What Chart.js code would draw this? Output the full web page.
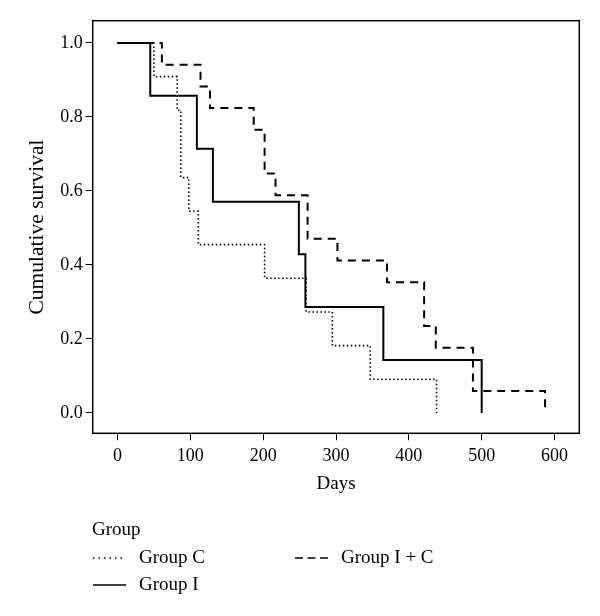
<!DOCTYPE html>
<html>
<head>
<meta charset="utf-8">
<title>Cumulative survival</title>
<script src="https://cdn.jsdelivr.net/npm/chart.js@4"></script>
<style>
body { margin: 0; background: #fff; }
canvas { display: block; }
</style>
</head>
<body>
<canvas id="chart" width="600" height="616"></canvas>
<script>
'use strict';

// Kaplan-Meier steps: day of each event and survival after it
const groupCDays = [0, 50, 82, 87, 98, 111, 202, 259, 295, 347, 438];
const groupCSurv = [1, 0.909, 0.818, 0.636, 0.545, 0.455, 0.364, 0.273, 0.182, 0.091, 0];
const groupIDays = [0, 45, 109, 131, 249, 258, 365, 500];
const groupISurv = [1, 0.857, 0.714, 0.571, 0.429, 0.286, 0.143, 0];
const groupICDays = [0, 61, 114, 127, 187, 202, 217, 261, 302, 370, 421, 437, 488, 587];
const groupICSurv = [1, 0.941, 0.882, 0.824, 0.765, 0.647, 0.588, 0.471, 0.412, 0.353, 0.235, 0.176, 0.059, 0];

const groupLabels = ['Group C', 'Group I', 'Group I + C'];
const xTitle = 'Days';
const yTitle = 'Cumulative survival';
const legendTitle = 'Group';

const SERIF = '"Liberation Serif", "Times New Roman", serif';

/**
 * 日数と生存率の配列から点列を作る
 */
function
toPoints(days, surv)
{
    return days.map((d, i) => ({ x: d, y: surv[i] }));
}

// 枠線 (上と右も含めて描く)
const boxPlugin = {
    id: 'box',
    afterDatasetsDraw(chart) {
        const { ctx, chartArea: a } = chart;
        ctx.save();
        ctx.strokeStyle = '#000';
        ctx.lineWidth = 1.5;
        ctx.strokeRect(a.left, a.top, a.right - a.left, a.bottom - a.top);
        ctx.restore();
    },
};

// 下部の凡例 (2 列)
const legendPlugin = {
    id: 'groupLegend',
    afterDraw(chart) {
        const ctx = chart.ctx;
        const slots = [
            { x: 93, y: 558 },
            { x: 93, y: 585 },
            { x: 295, y: 558 },
        ];
        ctx.save();
        ctx.fillStyle = '#000';
        ctx.font = `19px ${SERIF}`;
        ctx.textBaseline = 'alphabetic';
        ctx.fillText(legendTitle, 92, 535);
        chart.data.datasets.forEach((ds, i) => {
            const s = slots[i];
            ctx.strokeStyle = '#000';
            ctx.lineWidth = ds.legendWidth;
            ctx.setLineDash(ds.legendDash);
            ctx.beginPath();
            ctx.moveTo(s.x, s.y);
            ctx.lineTo(s.x + 33, s.y);
            ctx.stroke();
            ctx.setLineDash([]);
            ctx.fillText(ds.label, s.x + 46, s.y + 4.5);
        });
        ctx.restore();
    },
};

function
main()
{
    const datasets = [
        {
            label: groupLabels[0],
            data: toPoints(groupCDays, groupCSurv),
            borderDash: [1.5, 2.5],
            borderWidth: 1.6,
            legendDash: [1.5, 4],
            legendWidth: 1.3,
        },
        {
            label: groupLabels[1],
            data: toPoints(groupIDays, groupISurv),
            borderDash: [],
            borderWidth: 2,
            legendDash: [],
            legendWidth: 1.6,
        },
        {
            label: groupLabels[2],
            data: toPoints(groupICDays, groupICSurv),
            borderDash: [8, 6],
            borderWidth: 2,
            legendDash: [8, 4.5],
            legendWidth: 1.6,
        },
    ].map(ds => Object.assign(ds, {
        borderColor: '#000',
        backgroundColor: '#000',
        stepped: 'before',
        pointRadius: 0,
        fill: false,
        borderCapStyle: 'butt',
    }));

    const tickFont = { family: SERIF, size: 18 };

    new Chart(document.getElementById('chart'), {
        type: 'line',
        data: { datasets },
        options: {
            responsive: false,
            animation: false,
            layout: { padding: { left: 0, top: 20.7, right: 20.7, bottom: 117.7 } },
            plugins: {
                legend: { display: false },
                tooltip: { enabled: false },
            },
            scales: {
                x: {
                    type: 'linear',
                    min: -34,
                    max: 634,
                    border: { display: false },
                    grid: {
                        drawOnChartArea: false,
                        drawTicks: true,
                        tickLength: 7,
                        color: '#000',
                        lineWidth: 1,
                    },
                    ticks: {
                        stepSize: 100,
                        includeBounds: false,
                        color: '#000',
                        font: tickFont,
                        padding: 5,
                        maxRotation: 0,
                    },
                    title: {
                        display: true,
                        text: xTitle,
                        color: '#000',
                        font: { family: SERIF, size: 19 },
                        padding: { top: 0, bottom: 3 },
                    },
                    afterFit(scale) { scale.height = 65; },
                },
                y: {
                    min: -0.055,
                    max: 1.06,
                    border: { display: false },
                    grid: {
                        drawOnChartArea: false,
                        drawTicks: true,
                        tickLength: 7,
                        color: '#000',
                        lineWidth: 1,
                    },
                    ticks: {
                        stepSize: 0.2,
                        includeBounds: false,
                        color: '#000',
                        font: tickFont,
                        padding: 3,
                        callback: v => v.toFixed(1),
                    },
                    title: {
                        display: true,
                        text: yTitle,
                        color: '#000',
                        font: { family: SERIF, size: 21.5 },
                        padding: { top: 24, bottom: 0 },
                    },
                    afterFit(scale) { scale.width = 92.7; },
                },
            },
        },
        plugins: [boxPlugin, legendPlugin],
    });
}

main();
</script>
</body>
</html>
